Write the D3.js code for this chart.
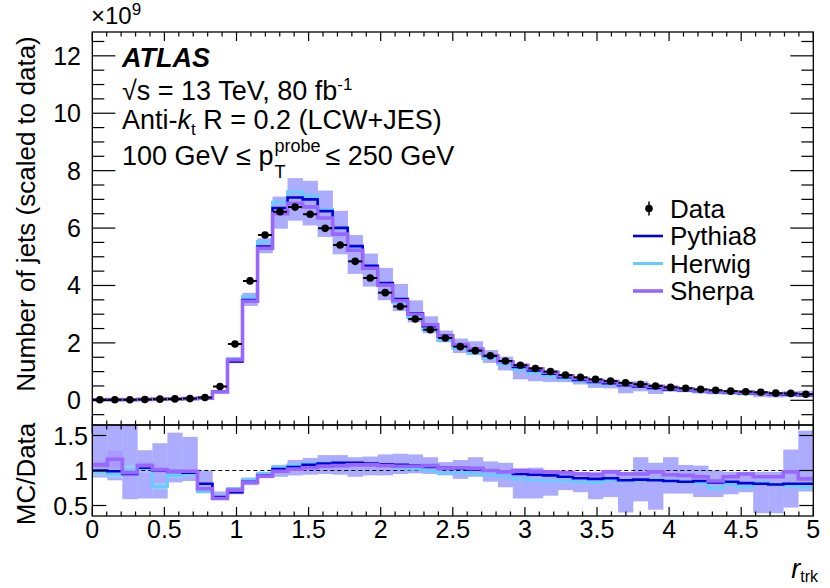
<!DOCTYPE html>
<html><head><meta charset="utf-8">
<script src="https://cdn.jsdelivr.net/npm/d3@7"></script>
<style>body{margin:0;background:#fff} svg{font-family:"Liberation Sans",Arial,Helvetica,sans-serif}</style>
</head><body><svg id="c" width="830" height="588"></svg>
<script>
// ---- binning ----
const xMin = 0, xMax = 5, nBins = 48;
// ---- data (units of 1e9 jets) ----
const dataVals = [0.02,0.02,0.02,0.03,0.04,0.05,0.06,0.10,0.48,1.96,4.16,5.76,6.57,6.73,6.48,5.99,5.41,4.84,4.26,3.75,3.27,2.83,2.46,2.17,1.87,1.73,1.55,1.37,1.22,1.11,1.00,0.88,0.80,0.73,0.67,0.61,0.56,0.50,0.45,0.42,0.38,0.35,0.32,0.30,0.28,0.25,0.24,0.21];
// ---- MC / Data ratios ----
const pythiaRatio = [1.00,0.99,0.95,1.04,1.00,0.98,0.97,0.81,0.62,0.69,0.84,0.93,1.02,1.05,1.08,1.10,1.11,1.11,1.10,1.09,1.08,1.07,1.05,1.04,1.03,1.01,1.00,0.99,0.95,0.94,0.93,0.91,0.89,0.88,0.89,0.86,0.87,0.86,0.85,0.84,0.85,0.83,0.84,0.82,0.81,0.80,0.81,0.81];
const herwigRatio = [0.98,0.95,1.00,1.03,0.77,0.93,0.95,0.70,0.62,0.74,0.87,0.96,1.05,1.08,1.10,1.11,1.11,1.10,1.09,1.07,1.04,1.02,1.00,0.96,0.97,0.95,0.94,0.92,0.88,0.86,0.85,0.85,0.84,0.83,0.86,0.85,0.86,0.87,0.85,0.84,0.82,0.75,0.80,0.76,0.83,0.80,0.78,0.76];
const sherpaRatio = [1.08,1.16,0.97,1.07,1.01,0.99,0.99,0.74,0.60,0.72,0.83,0.92,0.99,1.02,1.04,1.06,1.07,1.08,1.08,1.07,1.06,1.06,1.07,1.03,1.04,1.03,1.00,0.98,1.00,0.99,0.98,0.97,0.95,0.94,0.98,0.95,0.95,0.98,0.94,0.93,0.91,0.85,0.91,0.95,0.91,0.91,0.98,0.88];
// ---- uncertainty band (ratio to data) ----
const bandLo = [0.90,0.86,0.59,0.60,0.60,0.83,0.85,0.70,0.58,0.66,0.79,0.89,0.91,0.93,0.94,0.95,0.94,0.91,0.93,0.93,0.95,0.96,0.95,0.93,0.88,0.91,0.84,0.76,0.60,0.60,0.64,0.72,0.69,0.59,0.62,0.40,0.56,0.44,0.67,0.67,0.62,0.62,0.66,0.69,0.39,0.39,0.47,0.70];
const bandHi = [1.75,1.75,1.75,1.29,1.39,1.54,1.48,1.00,0.70,0.76,0.90,0.98,1.08,1.15,1.18,1.22,1.22,1.19,1.20,1.23,1.24,1.23,1.19,1.12,1.15,1.19,1.13,1.11,1.03,1.04,1.00,0.98,0.98,0.98,1.01,0.98,1.19,1.11,1.19,1.08,1.07,1.00,0.98,0.98,0.98,0.98,1.30,1.57];
// ---- MC statistical uncertainties on the ratio ----
const herwigStat = [0.06,0.06,0.08,0.06,0.05,0.04,0.03,0.03,0.02,0.02,0.01,0.01,0.01,0.01,0.01,0.01,0.01,0.01,0.01,0.01,0.01,0.01,0.01,0.01,0.01,0.01,0.01,0.01,0.01,0.01,0.01,0.01,0.01,0.01,0.01,0.01,0.02,0.02,0.02,0.02,0.02,0.02,0.02,0.02,0.02,0.02,0.02,0.03];
const sherpaStat = [0.05,0.12,0.06,0.05,0.04,0.03,0.02,0.02,0.02,0.01,0.01,0.01,0.01,0.01,0.01,0.01,0.01,0.01,0.01,0.01,0.01,0.01,0.01,0.01,0.01,0.01,0.01,0.01,0.01,0.01,0.01,0.01,0.01,0.01,0.01,0.01,0.02,0.02,0.02,0.02,0.02,0.02,0.02,0.02,0.02,0.02,0.02,0.03];
// ---- ticks ----
const xTicks = [0,0.5,1,1.5,2,2.5,3,3.5,4,4.5,5];
const xTickLabels = ["0","0.5","1","1.5","2","2.5","3","3.5","4","4.5","5"];
const mainYTicks = [0,2,4,6,8,10,12];
const mainYTickLabels = ["0","2","4","6","8","10","12"];
const ratioYTicks = [0.5,1,1.5];
const ratioYTickLabels = ["0.5","1","1.5"];
const legendLabels = ["Data","Pythia8","Herwig","Sherpa"];

const colPythia = "#0000dd", colHerwig = "#66ccff", colSherpa = "#9966ff", colBand = "#a3a3ff";

const svg = d3.select("#c");
const L = 92.3, R = 813.3, mainTop = 32, mainBot = 425, ratTop = 425, ratBot = 516;
const x = d3.scaleLinear().domain([xMin, xMax]).range([L, R]);
const yM = d3.scaleLinear().domain([-0.86, 12.83]).range([mainBot, mainTop]);
const yR = d3.scaleLinear().domain([0.35, 1.65]).range([ratBot, ratTop]);
const bw = (xMax - xMin) / nBins;
const edges = d3.range(nBins + 1).map(i => xMin + i * bw);

const defs = svg.append("defs");
defs.append("clipPath").attr("id","cm").append("rect").attr("x",L).attr("y",mainTop).attr("width",R-L).attr("height",mainBot-mainTop);
defs.append("clipPath").attr("id","cr").append("rect").attr("x",L).attr("y",ratTop).attr("width",R-L).attr("height",ratBot-ratTop);

const gM = svg.append("g").attr("clip-path","url(#cm)");
const gR = svg.append("g").attr("clip-path","url(#cr)");

function stepPath(vals, y) {
  const pts = vals.map((v,i)=>[edges[i], v]);
  pts.push([edges[nBins], vals[nBins-1]]);
  return d3.line().x(d=>x(d[0])).y(d=>y(d[1])).curve(d3.curveStepAfter)(pts);
}
function bandRects(g, lo, hi, y, fill, op) {
  g.append("g").selectAll("rect").data(d3.range(nBins)).join("rect")
    .attr("x", i => x(edges[i])).attr("width", i => x(edges[i+1]) - x(edges[i]) + 0.3)
    .attr("y", i => y(hi[i])).attr("height", i => Math.max(0, y(lo[i]) - y(hi[i])))
    .attr("fill", fill).attr("opacity", op);
}

// ---- main panel ----
const mainLo = dataVals.map((d,i)=>d*bandLo[i]);
const mainHi = dataVals.map((d,i)=>d*bandHi[i]);
bandRects(gM, mainLo, mainHi, yM, colBand, 0.9);
const series = [
  {r: herwigRatio, c: colHerwig, w: 3},
  {r: pythiaRatio, c: colPythia, w: 2.6},
  {r: sherpaRatio, c: colSherpa, w: 3.6}
];
series.forEach(s => {
  gM.append("path").attr("d", stepPath(dataVals.map((d,i)=>d*s.r[i]), yM))
    .attr("fill","none").attr("stroke", s.c).attr("stroke-width", s.w);
});
// data points
const gD = gM.append("g");
dataVals.forEach((d,i) => {
  gD.append("line").attr("x1", x(edges[i])+0.5).attr("x2", x(edges[i+1])-0.5)
    .attr("y1", yM(d)).attr("y2", yM(d)).attr("stroke","#000").attr("stroke-width",2);
  gD.append("circle").attr("cx", x(edges[i]+bw/2)).attr("cy", yM(d)).attr("r", 3.8).attr("fill","#000");
});

// ---- ratio panel ----
bandRects(gR, bandLo, bandHi, yR, colBand, 0.9);
bandRects(gR, herwigRatio.map((v,i)=>v-herwigStat[i]), herwigRatio.map((v,i)=>v+herwigStat[i]), yR, "#99ddff", 0.55);
bandRects(gR, sherpaRatio.map((v,i)=>v-sherpaStat[i]), sherpaRatio.map((v,i)=>v+sherpaStat[i]), yR, "#a88cff", 0.55);
gR.append("line").attr("x1",L).attr("x2",R).attr("y1",yR(1)).attr("y2",yR(1))
  .attr("stroke","#000").attr("stroke-width",1.2).attr("stroke-dasharray","4,3");
series.forEach(s => {
  gR.append("path").attr("d", stepPath(s.r, yR))
    .attr("fill","none").attr("stroke", s.c).attr("stroke-width", s.w);
});

// ---- axes / ticks ----
const gA = svg.append("g").attr("stroke","#000").attr("stroke-width",1.2);
function tick(x1,y1,x2,y2){ gA.append("line").attr("x1",x1).attr("y1",y1).attr("x2",x2).attr("y2",y2); }
const xMinor = d3.range(0, 50.5, 1).map(i => i*0.1);
xMinor.forEach(v => {
  const major = Math.abs(v*2 - Math.round(v*2)) < 1e-6;
  const px = x(v);
  tick(px, mainBot, px, mainBot - (major?9:4.5));
  tick(px, mainTop, px, mainTop + (major?9:4.5));
  tick(px, ratTop, px, ratTop + (major?9:4.5));
  tick(px, ratBot, px, ratBot - (major?9:4.5));
});
d3.range(-1, 26).map(i=>i*0.5).filter(v => v>=-0.86 && v<=12.83).forEach(v => {
  const major = Math.abs(v/2 - Math.round(v/2)) < 1e-6;
  const py = yM(v);
  tick(L, py, L + (major?23:12), py);
  tick(R, py, R - (major?23:12), py);
});
ratioYTicks.forEach(v => {
  tick(L, yR(v), L+14, yR(v));
  tick(R, yR(v), R-14, yR(v));
});
svg.append("rect").attr("x",L).attr("y",mainTop).attr("width",R-L).attr("height",mainBot-mainTop)
  .attr("fill","none").attr("stroke","#000").attr("stroke-width",1.3);
svg.append("rect").attr("x",L).attr("y",ratTop).attr("width",R-L).attr("height",ratBot-ratTop)
  .attr("fill","none").attr("stroke","#000").attr("stroke-width",1.3);

// tick labels
const gT = svg.append("g").attr("font-size", 25).attr("fill","#000");
mainYTicks.forEach((v,i) => gT.append("text").attr("x", 81).attr("y", yM(v)+9).attr("text-anchor","end").text(mainYTickLabels[i]));
ratioYTicks.forEach((v,i) => gT.append("text").attr("x", 88).attr("y", yR(v)+9).attr("text-anchor","end").text(ratioYTickLabels[i]));
xTicks.forEach((v,i) => gT.append("text").attr("x", x(v)).attr("y", 538).attr("text-anchor","middle").text(xTickLabels[i]));

// exponent
const ex = svg.append("text").attr("x", 91).attr("y", 24).attr("font-size", 24);
ex.append("tspan").text("\u00d710");
ex.append("tspan").attr("font-size", 17).attr("dy", -9).text("9");

// axis titles
svg.append("text").attr("transform","translate(35,214) rotate(-90)").attr("text-anchor","middle")
  .attr("font-size",26).text("Number of jets (scaled to data)");
svg.append("text").attr("transform","translate(35,474) rotate(-90)").attr("text-anchor","middle")
  .attr("font-size",26).text("MC/Data");
const xt = svg.append("text").attr("x", 818).attr("y", 578).attr("text-anchor","end").attr("font-size",27);
xt.append("tspan").attr("font-style","italic").text("r");
xt.append("tspan").attr("font-size",16).attr("dy",4).text("trk");

// ATLAS label block
svg.append("text").attr("x",122).attr("y",67).attr("font-size",27).attr("font-weight","bold").attr("font-style","italic").text("ATLAS");
const t2 = svg.append("text").attr("x",122).attr("y",100).attr("font-size",27);
t2.append("tspan").text("\u221As = 13 TeV, 80 fb");
t2.append("tspan").attr("font-size",17).attr("dy",-10).text("-1");
const t3 = svg.append("text").attr("x",122).attr("y",129).attr("font-size",27);
t3.append("tspan").text("Anti-");
t3.append("tspan").attr("font-style","italic").text("k");
t3.append("tspan").attr("font-size",17).attr("dy",6).text("t");
t3.append("tspan").attr("dy",-6).text(" R = 0.2 (LCW+JES)");
const t4 = svg.append("text").attr("x",122).attr("y",165).attr("font-size",27);
t4.append("tspan").text("100 GeV \u2264 p");
const pw = t4.node().getComputedTextLength();
svg.append("text").attr("x",122+pw+1).attr("y",152).attr("font-size",18).text("probe");
svg.append("text").attr("x",122+pw+1).attr("y",178).attr("font-size",18).text("T");
svg.append("text").attr("x",122+pw+52).attr("y",165).attr("font-size",27).text("\u2264 250 GeV");

// legend
const lx = 633, lx2 = 663, tx = 670;
const rows = [208.5, 236, 263.5, 291];
const lg = svg.append("g");
lg.append("line").attr("x1",649).attr("x2",649).attr("y1",rows[0]-7).attr("y2",rows[0]+7).attr("stroke","#000").attr("stroke-width",1.5);
lg.append("circle").attr("cx",649).attr("cy",rows[0]).attr("r",3.8).attr("fill","#000");
[[colPythia,2.6],[colHerwig,3],[colSherpa,3.6]].forEach((c,i) => {
  lg.append("line").attr("x1",lx).attr("x2",lx2).attr("y1",rows[i+1]).attr("y2",rows[i+1]).attr("stroke",c[0]).attr("stroke-width",c[1]);
});
legendLabels.forEach((t,i) => lg.append("text").attr("x",tx).attr("y",rows[i]+9).attr("font-size",26).text(t));
</script></body></html>
